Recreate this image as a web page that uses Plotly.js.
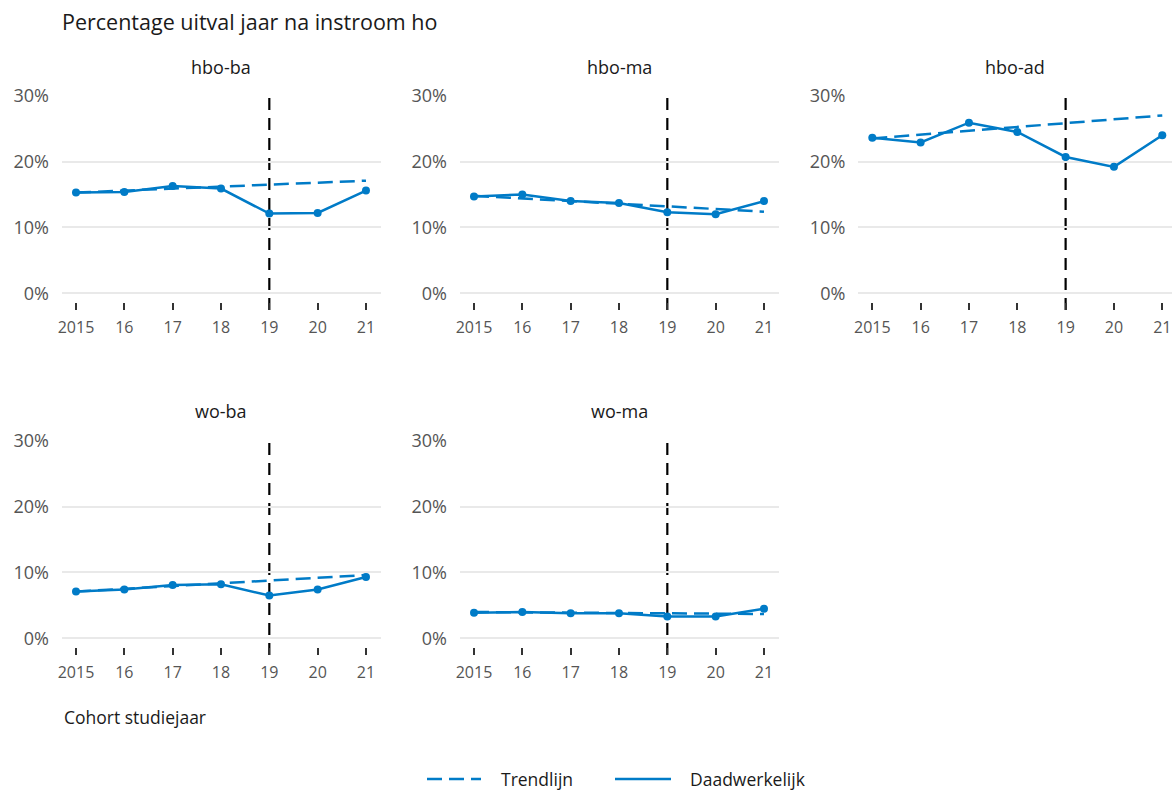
<!DOCTYPE html>
<html>
<head>
<meta charset="utf-8">
<script src="https://cdn.plot.ly/plotly-3.0.1.min.js"></script>
<style>html,body{margin:0;padding:0;background:#fff;}#chart{width:1172px;height:793px;}</style>
</head>
<body>
<div id="chart"></div>
<script>
// ---- data ----
const years = [2015, 2016, 2017, 2018, 2019, 2020, 2021];
const yearLabels = ['2015', '16', '17', '18', '19', '20', '21'];
const panelNames = ['hbo-ba', 'hbo-ma', 'hbo-ad', 'wo-ba', 'wo-ma'];
const actualHboBa = [15.3, 15.4, 16.3, 15.9, 12.1, 12.2, 15.6];
const trendHboBa  = [15.3, 15.6, 15.9, 16.2, 16.5, 16.8, 17.1];
const actualHboMa = [14.7, 15.0, 14.0, 13.7, 12.3, 12.0, 14.0];
const trendHboMa  = [14.8, 14.4, 14.0, 13.6, 13.2, 12.8, 12.4];
const actualHboAd = [23.6, 22.9, 25.9, 24.5, 20.7, 19.2, 24.0];
const trendHboAd  = [23.5, 24.1, 24.7, 25.2, 25.8, 26.4, 27.0];
const actualWoBa  = [7.1, 7.4, 8.1, 8.2, 6.5, 7.4, 9.3];
const trendWoBa   = [7.1, 7.5, 7.9, 8.3, 8.8, 9.2, 9.6];
const actualWoMa  = [3.9, 4.0, 3.8, 3.8, 3.3, 3.3, 4.5];
const trendWoMa   = [4.0, 3.95, 3.9, 3.85, 3.8, 3.75, 3.7];
const yTickVals = [0, 10, 20, 30];
const yTickText = ['0%', '10%', '20%', '30%'];
const breakYear = 2019;
const seriesNames = ['Trendlijn', 'Daadwerkelijk'];

const actuals = [actualHboBa, actualHboMa, actualHboAd, actualWoBa, actualWoMa];
const trends  = [trendHboBa, trendHboMa, trendHboAd, trendWoBa, trendWoMa];

// ---- layout geometry (pixels) ----
const W = 1172, H = 793;
const BLUE = '#007BC7';
const FONT = '"Open Sans", "Noto Sans", sans-serif';
const TREND_DASH = '15px,7px';
const colPx = [[62, 380.5], [460, 778.5], [858.3, 1172]];
const rowPx = [[95.7, 310], [440.7, 655]];
const pxPerYear = 48.33;
const xStart = 2015 - 14 / pxPerYear;
const yRange = [-2.53, 30];

const traces = [];
const layout = {
  width: W, height: H,
  margin: {l: 0, r: 0, t: 0, b: 0},
  paper_bgcolor: '#fff', plot_bgcolor: '#fff',
  font: {family: FONT, color: '#1a1a1a'},
  showlegend: false,
  title: {text: 'Percentage uitval jaar na instroom ho', x: 62 / W, xanchor: 'left', xref: 'paper',
          y: 1 - 22 / H, yanchor: 'middle', yref: 'paper', font: {size: 21.5, color: '#1a1a1a', family: FONT}},
  shapes: [], annotations: []
};

panelNames.forEach((name, i) => {
  const col = i % 3, row = Math.floor(i / 3);
  const sfx = i === 0 ? '' : String(i + 1);
  const xa = 'x' + sfx, ya = 'y' + sfx;
  const cx = colPx[col], ry = rowPx[row];
  const width = cx[1] - cx[0];
  layout['xaxis' + sfx] = {
    domain: [cx[0] / W, cx[1] / W], anchor: ya,
    range: [xStart, xStart + width / pxPerYear],
    tickvals: years, ticktext: yearLabels,
    ticks: 'inside', ticklen: 7, tickwidth: 2, tickcolor: '#333',
    showgrid: false, zeroline: false, showline: false,
    tickfont: {size: 16, color: '#555', family: FONT}, ticklabelstandoff: 6,
    fixedrange: true
  };
  layout['yaxis' + sfx] = {
    domain: [1 - ry[1] / H, 1 - ry[0] / H], anchor: xa,
    range: yRange, tickvals: yTickVals, ticktext: yTickText,
    ticks: '', showgrid: true, gridcolor: '#e9e9e9', gridwidth: 2,
    zeroline: false, showline: false,
    tickfont: {size: 18, color: '#555', family: FONT}, ticklabelstandoff: 12,
    fixedrange: true
  };
  traces.push({
    x: years, y: trends[i], xaxis: xa, yaxis: ya, type: 'scatter', mode: 'lines',
    name: seriesNames[0], showlegend: false,
    line: {color: BLUE, width: 2.5, dash: TREND_DASH}, hoverinfo: 'skip'
  });
  layout.shapes.push({
    type: 'line', xref: xa, yref: 'paper', x0: breakYear, x1: breakYear,
    y0: 1 - ry[1] / H, y1: 1 - ry[0] / H,
    line: {color: '#000', width: 2.2, dash: '12px,8px'}, layer: 'below'
  });
  layout.annotations.push({
    text: name, xref: 'paper', yref: 'paper', x: (cx[0] + cx[1]) / 2 / W,
    y: 1 - (row === 0 ? 67 : 411) / H,
    xanchor: 'center', yanchor: 'middle', showarrow: false,
    font: {size: 18, color: '#1a1a1a', family: FONT}
  });
});

panelNames.forEach((name, i) => {
  const sfx = i === 0 ? '' : String(i + 1);
  traces.push({
    x: years, y: actuals[i], xaxis: 'x' + sfx, yaxis: 'y' + sfx, type: 'scatter', mode: 'lines+markers',
    name: seriesNames[1], showlegend: false,
    line: {color: BLUE, width: 2.5}, marker: {color: BLUE, size: 8}, hoverinfo: 'skip'
  });
});

layout.annotations.push({
  text: 'Cohort studiejaar', xref: 'paper', yref: 'paper', x: 62 / W, y: 1 - 717 / H,
  xanchor: 'left', yanchor: 'middle', showarrow: false,
  font: {size: 17.5, color: '#1a1a1a', family: FONT}
});

// ---- legend (key drawn at the bottom) ----
const legendY = 1 - 779 / H;
const legendItems = [
  {name: seriesNames[0], dash: TREND_DASH, x0: 427, x1: 481, tx: 499},
  {name: seriesNames[1], dash: 'solid', x0: 615, x1: 671, tx: 688}
];
legendItems.forEach(it => {
  layout.shapes.push({
    type: 'line', xref: 'paper', yref: 'paper', x0: it.x0 / W, x1: it.x1 / W, y0: legendY, y1: legendY,
    line: {color: BLUE, width: 2.5, dash: it.dash}
  });
  layout.annotations.push({
    text: it.name, xref: 'paper', yref: 'paper', x: it.tx / W, y: legendY,
    xanchor: 'left', yanchor: 'middle', showarrow: false,
    font: {size: 17.5, color: '#1a1a1a', family: FONT}
  });
});

Plotly.newPlot('chart', traces, layout, {displayModeBar: false, staticPlot: true});
</script>
</body>
</html>
